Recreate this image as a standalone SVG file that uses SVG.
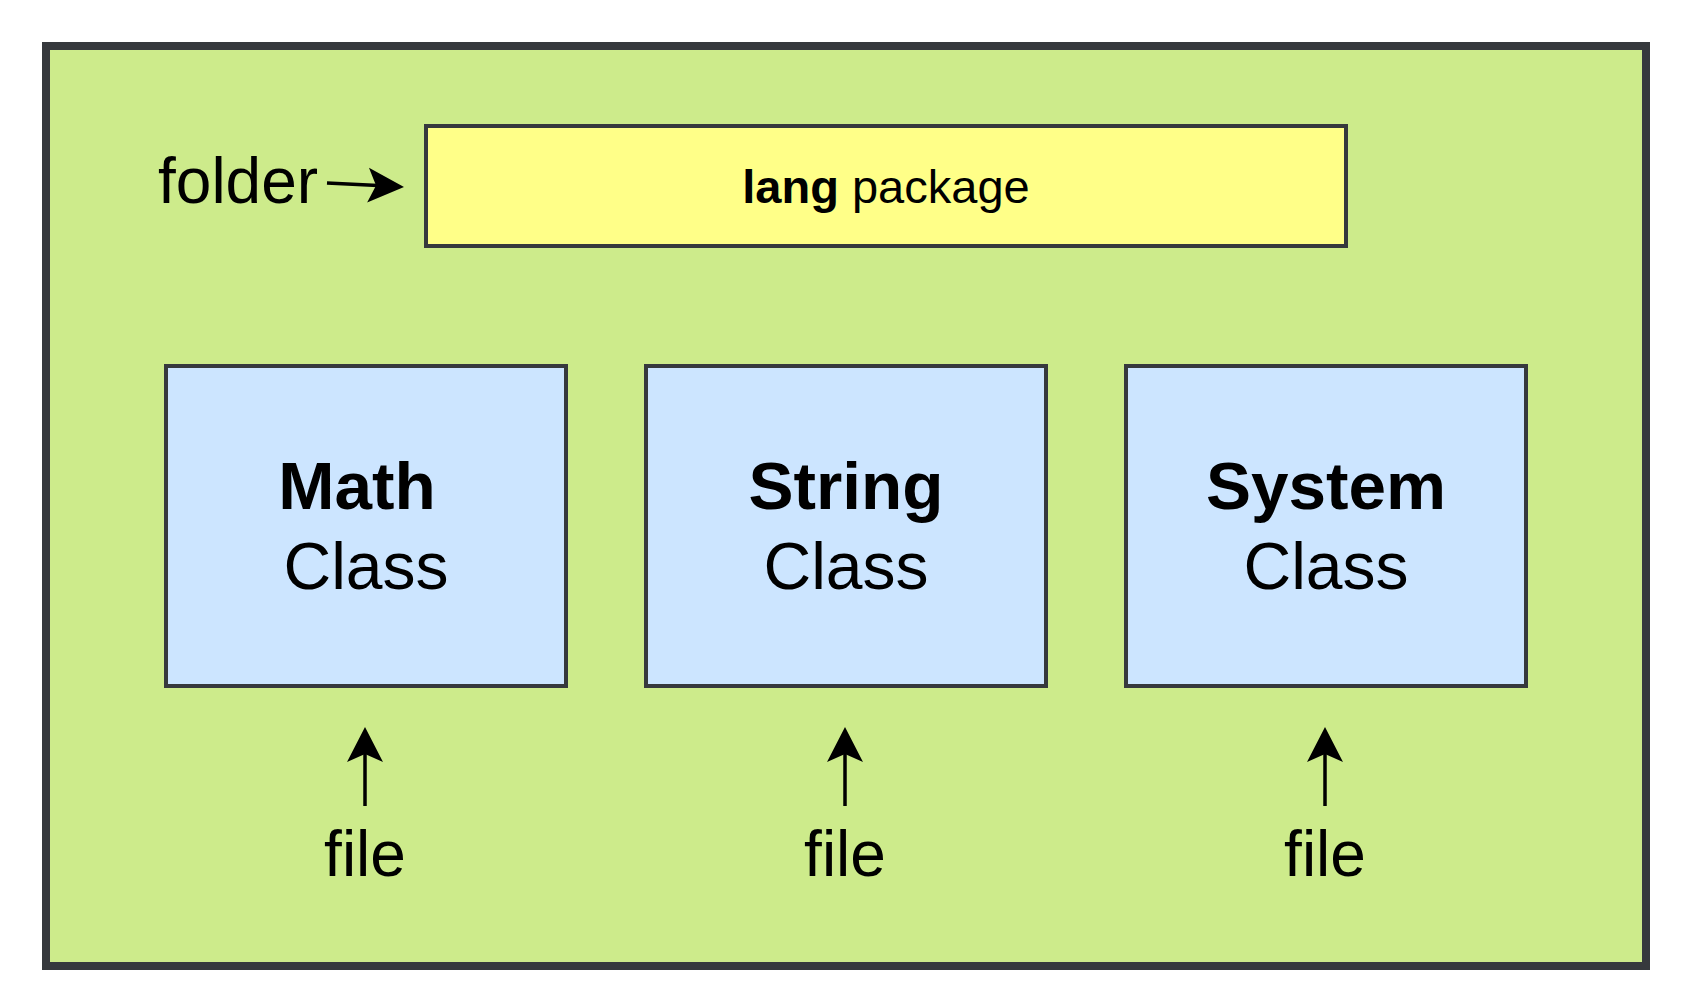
<svg xmlns="http://www.w3.org/2000/svg" width="1688" height="1008" viewBox="0 0 1688 1008">
<style>
.box{stroke:#36393d;stroke-width:4}
.t{font-family:"Liberation Sans",Arial,sans-serif;fill:#000}
.b{font-weight:bold}
.ln{stroke:#000;stroke-width:3.5;fill:none}
.hd{fill:#000;stroke:none}
</style>
<rect width="1688" height="1008" fill="#ffffff"/>
<g id="container">
<rect x="46" y="46" width="1600" height="920" fill="#cdeb8b" stroke="#36393d" stroke-width="8"/>
</g>
<g id="lang-package">
<rect class="box" x="426" y="126" width="920" height="120" fill="#ffff88"/>
<text class="t" x="886" y="203" font-size="47" text-anchor="middle"><tspan class="b">lang</tspan> package</text>
</g>
<g id="math-class">
<rect class="box" x="166" y="366" width="400" height="320" fill="#cce5ff"/>
<text class="t b" x="357" y="509" font-size="67.5" text-anchor="middle">Math</text>
<text class="t" x="366" y="589" font-size="66" text-anchor="middle">Class</text>
</g>
<g id="string-class">
<rect class="box" x="646" y="366" width="400" height="320" fill="#cce5ff"/>
<text class="t b" x="846" y="509" font-size="67.5" text-anchor="middle">String</text>
<text class="t" x="846" y="589" font-size="66" text-anchor="middle">Class</text>
</g>
<g id="system-class">
<rect class="box" x="1126" y="366" width="400" height="320" fill="#cce5ff"/>
<text class="t b" x="1326" y="509" font-size="67.5" text-anchor="middle">System</text>
<text class="t" x="1326" y="589" font-size="66" text-anchor="middle">Class</text>
</g>
<g id="labels">
<text class="t" x="158" y="203" font-size="64">folder</text>
<text class="t" x="365" y="876" font-size="64" text-anchor="middle">file</text>
<text class="t" x="845" y="876" font-size="64" text-anchor="middle">file</text>
<text class="t" x="1325" y="876" font-size="64" text-anchor="middle">file</text>
</g>
<g id="connectors">
<line class="ln" x1="327" y1="183" x2="378" y2="185.6"/>
<path class="hd" transform="translate(404,187) rotate(3)" d="M0,0 L-36,-17.5 L-28,0 L-36,17.5 Z"/>
<line class="ln" x1="365" y1="806" x2="365" y2="752"/>
<path class="hd" d="M365,727 L347,762 L365,754 L383,762 Z"/>
<line class="ln" x1="845" y1="806" x2="845" y2="752"/>
<path class="hd" d="M845,727 L827,762 L845,754 L863,762 Z"/>
<line class="ln" x1="1325" y1="806" x2="1325" y2="752"/>
<path class="hd" d="M1325,727 L1307,762 L1325,754 L1343,762 Z"/>
</g>
</svg>
